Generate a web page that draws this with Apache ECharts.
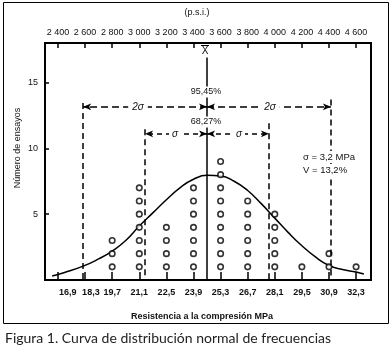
<!DOCTYPE html>
<html>
<head>
<meta charset="utf-8">
<script src="https://cdn.jsdelivr.net/npm/echarts@6/dist/echarts.min.js"></script>
<style>
html,body{margin:0;padding:0;background:#fff}
#chart{width:392px;height:351px}
</style>
</head>
<body>
<div id="chart"></div>
<script>
// bottom axis (MPa) and top axis (p.s.i.)
const mpaTicks = [16.9, 18.3, 19.7, 21.1, 22.5, 23.9, 25.3, 26.7, 28.1, 29.5, 30.9, 32.3]
const psiLabels = ['2 400','2 600','2 800','3 000','3 200','3 400','3 600','3 800','4 000','4 200','4 400','4 600']
const yTicks = [5, 10, 15]

// number of tests in each column (one circle per test)
const testCounts = [0, 0, 3, 7, 4, 7, 9, 6, 5, 1, 2, 1]

// normal curve
const curveX = [16.6, 17.2, 18.2, 19.0, 19.7, 20.4, 21.1, 21.8, 22.5, 23.2, 23.9, 24.6, 25.3, 26.0, 26.7, 27.4, 28.1, 28.8, 29.5, 30.2, 30.9, 31.6, 32.3, 32.7]
const curveY = [0.3, 0.55, 1.05, 1.6, 2.2, 3.0, 4.1, 5.1, 6.1, 7.0, 7.65, 7.95, 7.9, 7.5, 6.8, 5.8, 4.7, 3.6, 2.6, 1.75, 1.1, 0.8, 0.6, 0.45]

const mean = 24.6
const sigma = 3.2

var chartDom = document.getElementById('chart')
var myChart = echarts.init(chartDom)

var dots = []
testCounts.forEach((n, i) => {
  for (let k = 1; k <= n; k++) dots.push([mpaTicks[i], k])
})
var curve = curveX.map((x, i) => [x, curveY[i]])

// the first two bottom labels sit a bit right of their ticks in the original
var labelShift = [0.5, 0.3]
var bottomLabelPos = mpaTicks.map((v, i) => v + (labelShift[i] || 0))

function idx(arr, v) {
  return arr.findIndex(p => Math.abs(p - v) < 1e-6)
}

var vline = (x, top, dashed) => [{ coord: [x, top], lineStyle: { type: dashed ? [6, 4] : 'solid' } }, { coord: [x, 0] }]
var arrow = (x1, x2, y, dash) => [{ coord: [x1, y], symbol: 'arrow', lineStyle: { type: dash } }, { coord: [x2, y], symbol: 'arrow' }]

var txt = { fontFamily: 'Liberation Sans', fontSize: 9, fill: '#111' }

var option = {
  animation: false,
  backgroundColor: '#fff',
  grid: { left: 45, right: 21, top: 43, bottom: 71, show: true, borderColor: '#000', borderWidth: 2 },
  xAxis: [
    {
      type: 'value', position: 'bottom', min: 16.23, max: 33.07,
      axisLine: { lineStyle: { color: '#000', width: 2 } },
      axisTick: { inside: true, length: 8, customValues: mpaTicks, lineStyle: { color: '#000', width: 1.5 } },
      axisLabel: {
        customValues: bottomLabelPos, margin: 8, color: '#111', fontSize: 9, fontFamily: 'Liberation Sans', fontWeight: 'bold',
        formatter: v => String(mpaTicks[idx(bottomLabelPos, v)]).replace('.', ',')
      },
      splitLine: { show: false }
    },
    {
      type: 'value', position: 'top', min: 16.23, max: 33.07,
      axisLine: { lineStyle: { color: '#000', width: 2 } },
      axisTick: { inside: true, length: 5, customValues: mpaTicks, lineStyle: { color: '#000', width: 1.5 } },
      axisLabel: {
        customValues: mpaTicks, margin: 6, color: '#111', fontSize: 9, fontFamily: 'Liberation Sans',
        formatter: v => psiLabels[idx(mpaTicks, v)]
      },
      splitLine: { show: false }
    }
  ],
  yAxis: {
    type: 'value', min: 0, max: 18,
    axisLine: { show: true, lineStyle: { color: '#000', width: 2 } },
    axisTick: { inside: true, length: 4, customValues: yTicks, lineStyle: { color: '#000', width: 1.5 } },
    axisLabel: { customValues: yTicks, margin: 7, color: '#111', fontSize: 9, fontFamily: 'Liberation Sans' },
    splitLine: { show: false }
  },
  series: [
    {
      type: 'line', data: curve, smooth: true, symbol: 'none',
      lineStyle: { color: '#000', width: 1.5 }, z: 3
    },
    {
      type: 'scatter', data: dots, symbol: 'circle', symbolSize: 5.5,
      itemStyle: { color: '#fff', borderColor: '#000', borderWidth: 1.6 }, z: 4
    },
    {
      type: 'line', data: [], silent: true,
      markLine: {
        silent: true, animation: false,
        symbol: 'none', symbolSize: [5, 8],
        label: { show: false },
        lineStyle: { color: '#000', width: 1.5 },
        data: [
          vline(mean, 16.9, false),
          vline(mean - 2 * sigma, 13.45, true),
          vline(mean + 2 * sigma, 13.7, true),
          vline(mean - sigma, 11.45, true),
          vline(mean + sigma, 11.9, true),
          arrow(mean, mean - 2 * sigma, 13.15, [7, 4]),
          arrow(mean, mean + 2 * sigma, 13.15, [7, 4]),
          arrow(mean, mean - sigma, 11.1, [5, 4]),
          arrow(mean, mean + sigma, 11.1, [5, 4])
        ]
      }
    }
  ],
  graphic: [
    { type: 'rect', shape: { x: 3.5, y: 2.5, width: 385, height: 321 }, style: { fill: 'none', stroke: '#000', lineWidth: 1 }, z: 0 },
    { type: 'text', x: 197, y: 13, style: Object.assign({}, txt, { text: '(p.s.i.)', align: 'center', verticalAlign: 'middle' }) },
    { type: 'text', x: 205, y: 51, style: Object.assign({}, txt, { text: 'X', fontSize: 10, align: 'center', verticalAlign: 'middle' }), z: 10 },
    { type: 'line', shape: { x1: 201, y1: 45.5, x2: 209, y2: 45.5 }, style: { stroke: '#000', lineWidth: 1 }, z: 10 },
    { type: 'text', x: 206, y: 92, style: Object.assign({}, txt, { text: '95,45%', align: 'center', verticalAlign: 'middle', backgroundColor: '#fff', padding: [1, 1] }), z: 10 },
    { type: 'text', x: 206, y: 122, style: Object.assign({}, txt, { text: '68,27%', align: 'center', verticalAlign: 'middle', backgroundColor: '#fff', padding: [1, 1] }), z: 10 },
    { type: 'text', x: 138, y: 107, style: Object.assign({}, txt, { text: '2σ', fontSize: 10, fontStyle: 'italic', align: 'center', verticalAlign: 'middle', backgroundColor: '#fff', padding: [0, 4] }), z: 10 },
    { type: 'text', x: 270, y: 107, style: Object.assign({}, txt, { text: '2σ', fontSize: 10, fontStyle: 'italic', align: 'center', verticalAlign: 'middle', backgroundColor: '#fff', padding: [0, 4] }), z: 10 },
    { type: 'text', x: 175, y: 134, style: Object.assign({}, txt, { text: 'σ', fontSize: 10, fontStyle: 'italic', align: 'center', verticalAlign: 'middle', backgroundColor: '#fff', padding: [0, 3] }), z: 10 },
    { type: 'text', x: 239, y: 134, style: Object.assign({}, txt, { text: 'σ', fontSize: 10, fontStyle: 'italic', align: 'center', verticalAlign: 'middle', backgroundColor: '#fff', padding: [0, 3] }), z: 10 },
    { type: 'text', x: 302, y: 157, style: Object.assign({}, txt, { text: 'σ = 3,2 MPa', fontSize: 9.5, align: 'left', verticalAlign: 'middle', backgroundColor: '#fff', padding: [1, 1] }), z: 10 },
    { type: 'text', x: 302, y: 170, style: Object.assign({}, txt, { text: 'V = 13,2%', fontSize: 9.5, align: 'left', verticalAlign: 'middle', backgroundColor: '#fff', padding: [1, 1] }), z: 10 },
    { type: 'text', x: 18, y: 148, rotation: Math.PI / 2, style: Object.assign({}, txt, { text: 'Número de ensayos', align: 'center', verticalAlign: 'middle' }) },
    { type: 'text', x: 202, y: 317, style: Object.assign({}, txt, { text: 'Resistencia a la compresión MPa', fontWeight: 'bold', align: 'center', verticalAlign: 'middle' }) },
    { type: 'text', x: 5, y: 338, style: { text: 'Figura 1. Curva de distribución normal de frecuencias', fontFamily: 'Lato', fontSize: 14, fill: '#222', align: 'left', verticalAlign: 'middle' } }
  ]
}

option && myChart.setOption(option)
</script>
</body>
</html>
